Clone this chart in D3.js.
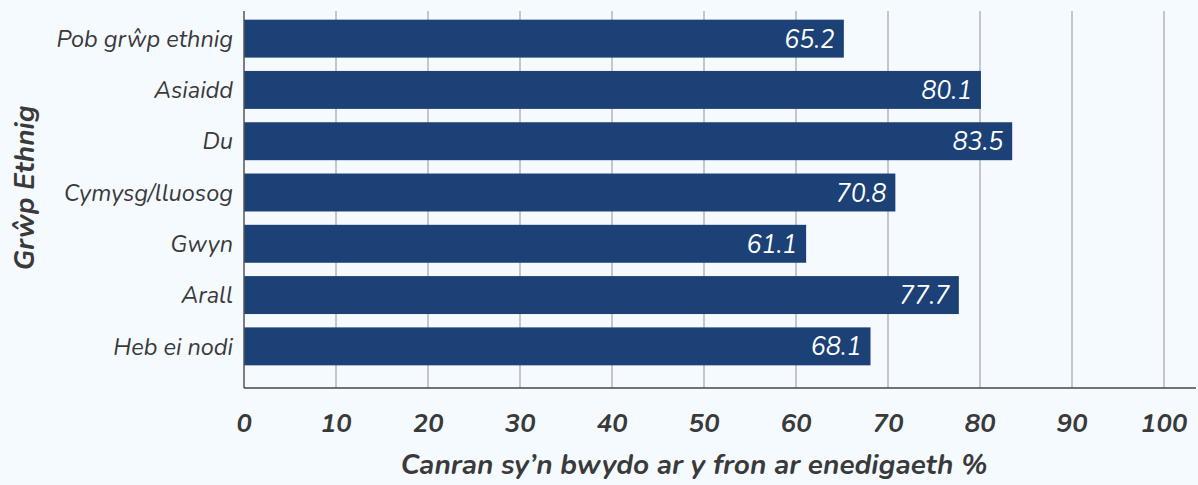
<!DOCTYPE html>
<html>
<head>
<meta charset="utf-8">
<script src="https://cdn.jsdelivr.net/npm/d3@7"></script>
<style>
  body { margin: 0; background: #f5faff; }
  svg { display: block; font-family: "Nunito", "Lato", sans-serif; }
</style>
</head>
<body>
<svg id="chart" width="1198" height="485"></svg>
<script>
const categories = ["Pob grŵp ethnig", "Asiaidd", "Du", "Cymysg/lluosog", "Gwyn", "Arall", "Heb ei nodi"];
const values = [65.2, 80.1, 83.5, 70.8, 61.1, 77.7, 68.1];
const xTicks = [0, 10, 20, 30, 40, 50, 60, 70, 80, 90, 100];

const svg = d3.select("#chart"),
      width = +svg.attr("width"),
      height = +svg.attr("height");

const left = 244, plotTop = 11, plotBottom = 388;

const x = d3.scaleLinear().domain([0, 100]).range([left, 1164]);
const y = d3.scaleBand()
    .domain(categories)
    .range([13, 372])
    .paddingInner(0.26)
    .paddingOuter(0.13);

svg.append("rect").attr("width", width).attr("height", height).attr("fill", "#f5faff");

// vertical grid lines
svg.append("g")
    .selectAll("line")
    .data(xTicks.slice(1))
    .enter().append("line")
    .attr("x1", d => x(d)).attr("x2", d => x(d))
    .attr("y1", plotTop).attr("y2", plotBottom)
    .attr("stroke", "#b3b5b8")
    .attr("stroke-width", 1.5);

// bars
svg.append("g")
    .selectAll("rect")
    .data(categories)
    .enter().append("rect")
    .attr("x", x(0))
    .attr("y", d => y(d))
    .attr("width", (d, i) => x(values[i]) - x(0))
    .attr("height", y.bandwidth())
    .attr("fill", "#1c4177");

// value labels
svg.append("g")
    .selectAll("text")
    .data(categories)
    .enter().append("text")
    .attr("x", (d, i) => x(values[i]) - 9)
    .attr("y", d => y(d) + y.bandwidth() / 2)
    .attr("dy", "0.36em")
    .attr("text-anchor", "end")
    .attr("fill", "#ffffff")
    .style("font-size", "25px")
    .style("font-style", "italic")
    .text((d, i) => values[i].toFixed(1));

// axis lines
svg.append("line")
    .attr("x1", left).attr("x2", left)
    .attr("y1", plotTop).attr("y2", plotBottom)
    .attr("stroke", "#555").attr("stroke-width", 1.5);
svg.append("line")
    .attr("x1", left).attr("x2", 1196)
    .attr("y1", plotBottom).attr("y2", plotBottom)
    .attr("stroke", "#444").attr("stroke-width", 1.5);

// category labels
svg.append("g")
    .selectAll("text")
    .data(categories)
    .enter().append("text")
    .attr("x", 233)
    .attr("y", d => y(d) + y.bandwidth() / 2)
    .attr("dy", "0.35em")
    .attr("text-anchor", "end")
    .attr("fill", "#3a3a3a")
    .style("font-size", "23.5px")
    .style("font-style", "italic")
    .text(d => d);

// x tick labels
svg.append("g")
    .selectAll("text")
    .data(xTicks)
    .enter().append("text")
    .attr("x", d => x(d))
    .attr("y", 432)
    .attr("text-anchor", "middle")
    .attr("fill", "#3a3a3a")
    .style("font-size", "26px")
    .style("font-style", "italic")
    .style("font-weight", "bold")
    .text(d => d);

// axis titles
svg.append("text")
    .attr("x", 694)
    .attr("y", 474)
    .attr("text-anchor", "middle")
    .attr("fill", "#3a3a3a")
    .style("font-size", "28px")
    .style("font-style", "italic")
    .style("font-weight", "bold")
    .text("Canran sy’n bwydo ar y fron ar enedigaeth %");

svg.append("text")
    .attr("transform", "translate(34,188) rotate(-90)")
    .attr("text-anchor", "middle")
    .attr("fill", "#3a3a3a")
    .style("font-size", "28px")
    .style("font-style", "italic")
    .style("font-weight", "bold")
    .text("Grŵp Ethnig");
</script>
</body>
</html>
